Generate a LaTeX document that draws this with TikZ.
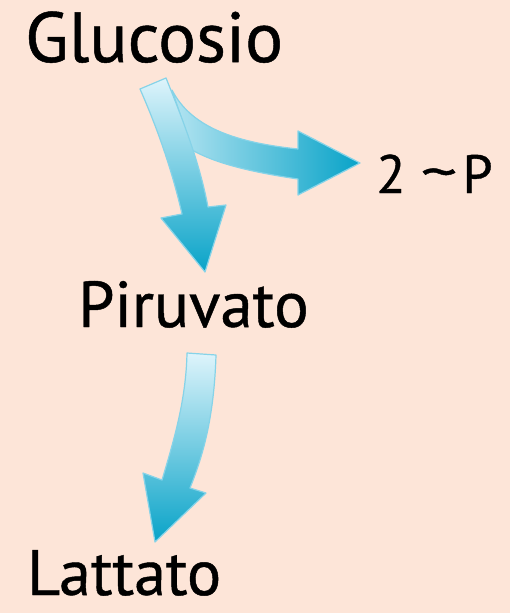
\documentclass[tikz,border=0pt]{standalone}
\usepackage{fontspec}
\setmainfont[FakeBold=0.7]{PT Sans}
\definecolor{bgpeach}{RGB}{253,229,216}
\definecolor{arrlight}{RGB}{222,244,251}
\definecolor{arrdark}{RGB}{8,163,200}
\definecolor{arredge}{RGB}{134,211,232}
\tikzset{
  fatarrow/.style={draw=arredge, line width=1.2pt, line join=round},
  label/.style={inner sep=0pt, anchor=base west, text=black},
}
\begin{document}
\begin{tikzpicture}[x=1pt,y=-1pt]
\useasboundingbox (0,0) rectangle (510,613);
\fill[bgpeach] (0,0) rectangle (510,613);

% texts
\node[label, font=\fontsize{71}{71}\selectfont] (glu) at (25,62) {Glucosio};
\node[label, font=\fontsize{54}{54}\selectfont] (atp) at (376,193) {2\hspace{15pt}\raisebox{2pt}{\scalebox{1.35}[1]{\char"007E}}\hspace{5pt}P};
\node[label, font=\fontsize{65}{65}\selectfont] (pir) at (78,327) {Piruvato};
\node[label, font=\fontsize{64}{64}\selectfont] (lat) at (27,595) {Lattato};

% branch arrow (behind)
\shadedraw[fatarrow, left color=arrlight!80!arrdark, right color=arrdark]
  (172,90) .. controls (190,125) and (230,142) .. (298,149)
  -- (298,131) -- (360,163) -- (298,195) -- (298,179)
  .. controls (250,172) and (215,163) .. (192,150) -- cycle;

% main arrow 1
\shadedraw[fatarrow, top color=arrlight, bottom color=arrdark]
  (140,89) -- (166,78)
  .. controls (185,125) and (200,165) .. (208,207)
  -- (226,205) -- (205,272) -- (161,218) -- (182,214)
  .. controls (172,170) and (158,130) .. (140,89) -- cycle;

% arrow 2
\shadedraw[fatarrow, top color=arrlight, bottom color=arrdark]
  (187,353) -- (216,355)
  .. controls (214,420) and (202,458) .. (190,488)
  -- (206,493) -- (155,542) -- (143,473) -- (162,480)
  .. controls (174,440) and (186,400) .. (187,353) -- cycle;
\end{tikzpicture}
\end{document}
